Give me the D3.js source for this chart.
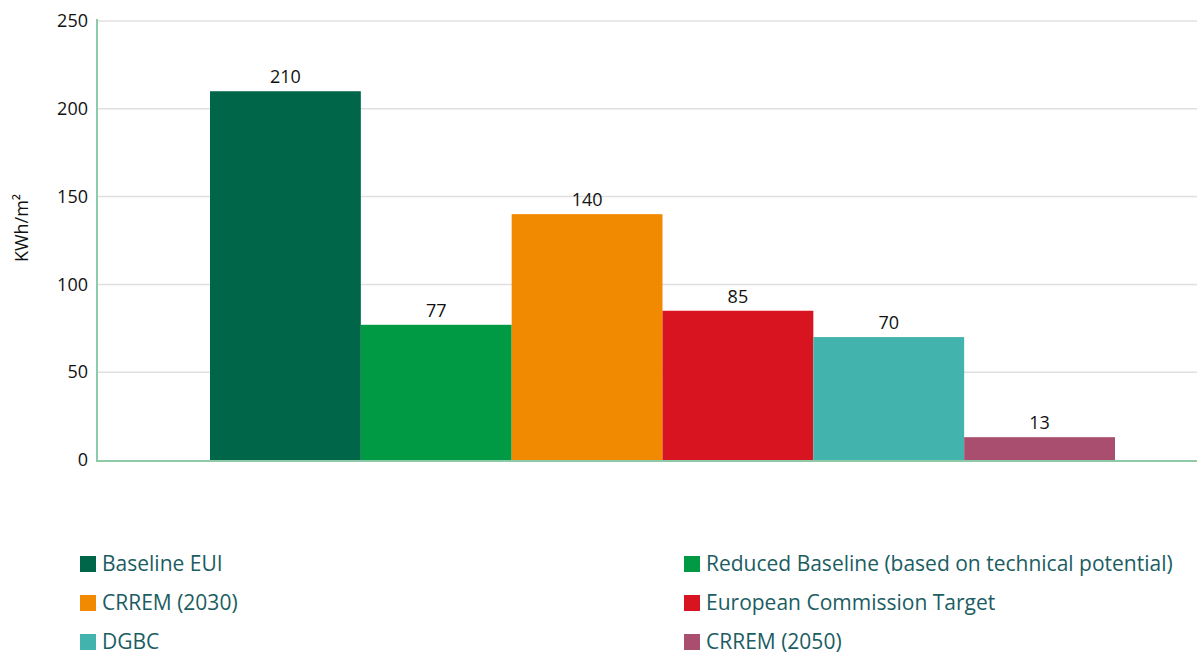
<!DOCTYPE html>
<html>
<head>
<meta charset="utf-8">
<script src="https://cdn.jsdelivr.net/npm/d3@7"></script>
<style>
body { margin: 0; background: #fff; }
svg { display: block; }
text { font-family: "Open Sans", "Noto Sans", sans-serif; }
</style>
</head>
<body>
<svg id="chart" width="1199" height="655"></svg>
<script>
const categories = ["Baseline EUI", "Reduced Baseline (based on technical potential)", "CRREM (2030)", "European Commission Target", "DGBC", "CRREM (2050)"];
const values = [210, 77, 140, 85, 70, 13];
const colors = ["#00664a", "#009a44", "#f18a00", "#d7141f", "#43b3ae", "#a94e6f"];
const yTicks = [0, 50, 100, 150, 200, 250];
const yLabel = "KWh/m²";

const svg = d3.select("#chart");
const plotLeft = 97, plotRight = 1197, plotTop = 21, plotBottom = 460;

const x = d3.scaleBand().domain(categories).range([210, 1115]).padding(0);
const y = d3.scaleLinear().domain([0, 250]).range([plotBottom, plotTop]);

// gridlines
svg.append("g").selectAll("line").data(yTicks.filter(d => d > 0)).join("line")
  .attr("x1", plotLeft).attr("x2", plotRight)
  .attr("y1", d => y(d)).attr("y2", d => y(d))
  .attr("stroke", "#e0e0e0").attr("stroke-width", 1.5);

// y axis
const yAxis = d3.axisLeft(y).tickValues(yTicks).tickSize(0).tickPadding(9);
const gy = svg.append("g").attr("transform", `translate(${plotLeft},0)`).call(yAxis);
gy.select(".domain").remove();
gy.selectAll("text").attr("font-size", 18).attr("fill", "#111").attr("font-family", "'Open Sans', sans-serif");

// bars
svg.append("g").selectAll("rect").data(categories).join("rect")
  .attr("x", d => x(d))
  .attr("width", x.bandwidth())
  .attr("y", (d, i) => y(values[i]))
  .attr("height", (d, i) => y(0) - y(values[i]))
  .attr("fill", (d, i) => colors[i]);

// value labels
svg.append("g").selectAll("text").data(categories).join("text")
  .attr("x", d => x(d) + x.bandwidth() / 2)
  .attr("y", (d, i) => y(values[i]) - 8)
  .attr("text-anchor", "middle")
  .attr("font-size", 18)
  .attr("fill", "#111")
  .text((d, i) => values[i]);

// axis lines
svg.append("line").attr("x1", plotLeft).attr("x2", plotLeft)
  .attr("y1", plotTop - 2).attr("y2", plotBottom + 1)
  .attr("stroke", "#8fcaa8").attr("stroke-width", 2);
svg.append("line").attr("x1", plotLeft - 1).attr("x2", plotRight)
  .attr("y1", plotBottom + 1).attr("y2", plotBottom + 1)
  .attr("stroke", "#8fcaa8").attr("stroke-width", 2);

// y label
svg.append("text")
  .attr("transform", `translate(28,228) rotate(-90)`)
  .attr("text-anchor", "middle")
  .attr("font-size", 18)
  .attr("fill", "#111")
  .text(yLabel);

// legend
const legendCols = [80, 684];
const legendRows = [564, 603, 642];
const lg = svg.append("g").selectAll("g").data(categories).join("g")
  .attr("transform", (d, i) => `translate(${legendCols[i % 2]},${legendRows[Math.floor(i / 2)]})`);
lg.append("rect").attr("x", 0).attr("y", -8).attr("width", 16).attr("height", 16)
  .attr("fill", (d, i) => colors[i]);
lg.append("text").attr("x", 22).attr("y", 0).attr("dy", "0.35em")
  .attr("font-size", 21).attr("fill", "#1b5d62")
  .text(d => d);
</script>
</body>
</html>
